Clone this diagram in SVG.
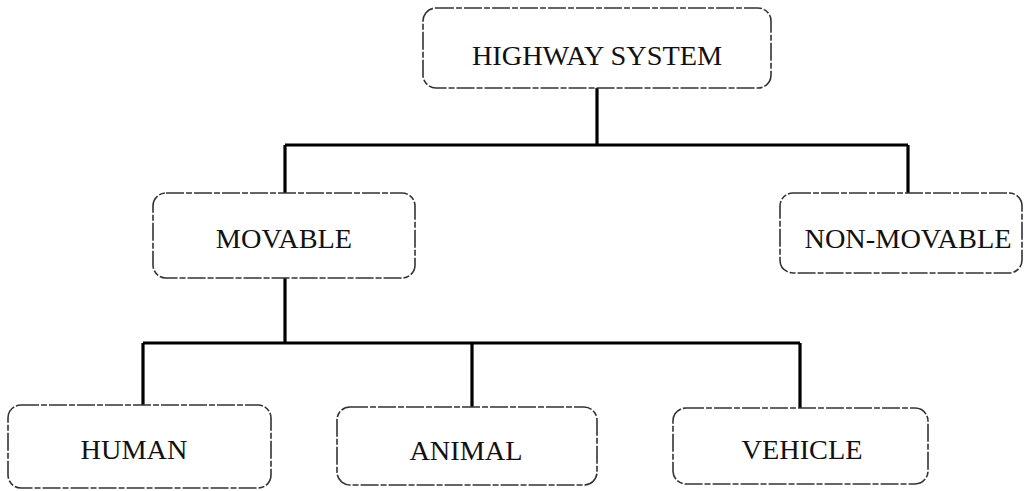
<svg xmlns="http://www.w3.org/2000/svg" width="1028" height="491" viewBox="0 0 1028 491">
<style>
.box{fill:#fff;stroke:#333;stroke-width:1.6;stroke-dasharray:18 2 6 2}
.lbl{font-family:"Liberation Serif","Times New Roman",serif;font-size:28.3px;fill:#111;text-anchor:middle}
.con{fill:none;stroke:#000;stroke-width:3.2}
</style>
<rect width="1028" height="491" fill="#fff"/>
<g id="connectors">
<path class="con" d="M597 88V145M285 145H908M285 145V193M908 145V193"/>
<path class="con" d="M285 278V343M143 343H800M143 343V405M472 343V407M800 343V408"/>
</g>
<g id="highway"><rect class="box" x="423" y="8" width="348" height="80" rx="13"/><text class="lbl" x="597" y="65">HIGHWAY SYSTEM</text></g>
<g id="movable"><rect class="box" x="153" y="193" width="262" height="85" rx="13"/><text class="lbl" x="284" y="248">MOVABLE</text></g>
<g id="nonmovable"><rect class="box" x="780" y="193" width="242" height="80" rx="13"/><text class="lbl" x="908" y="248">NON-MOVABLE</text></g>
<g id="human"><rect class="box" x="8" y="405" width="263" height="83" rx="13"/><text class="lbl" x="134" y="459">HUMAN</text></g>
<g id="animal"><rect class="box" x="337" y="407" width="260" height="78" rx="13"/><text class="lbl" x="466" y="460">ANIMAL</text></g>
<g id="vehicle"><rect class="box" x="673" y="408" width="255" height="76" rx="13"/><text class="lbl" x="802" y="459">VEHICLE</text></g>
</svg>
